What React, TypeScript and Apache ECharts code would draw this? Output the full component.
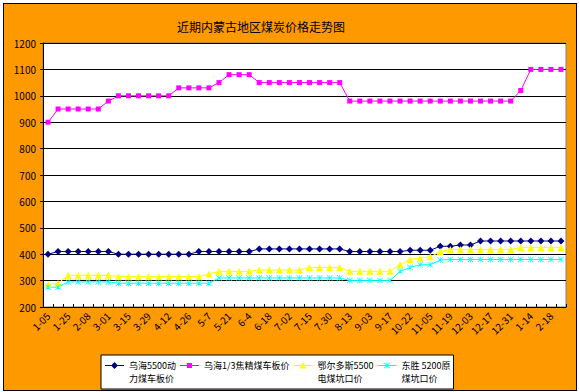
import React, { useEffect, useRef } from "react";
import * as echarts from "echarts";

const FONT = '"Noto Sans CJK SC", "DejaVu Sans", sans-serif';

const titleText = "近期内蒙古地区煤炭价格走势图";

const categories = [
  "1-05", "1-15", "1-25", "2-01", "2-08", "2-22", "3-01", "3-08", "3-15", "3-22",
  "3-29", "4-05", "4-12", "4-19", "4-26", "4-30", "5-7", "5-14", "5-21", "5-28",
  "6-4", "6-11", "6-18", "6-25", "7-02", "7-09", "7-15", "7-23", "7-30", "8-06",
  "8-13", "8-20", "9-03", "9-10", "9-17", "10-08", "10-22", "10-29", "11-05", "11-12",
  "11-19", "11-26", "12-03", "12-10", "12-17", "12-24", "12-31", "1-07", "1-14", "1-28",
  "2-18", "2-25",
];

const seriesNames = [
  "乌海5500动力煤车板价",
  "乌海1/3焦精煤车板价",
  "鄂尔多斯5500电煤坑口价",
  "东胜 5200原煤坑口价",
];
const legendLabels = [
  "乌海5500动\n力煤车板价",
  "乌海1/3焦精煤车板价\n",
  "鄂尔多斯5500\n电煤坑口价",
  "东胜 5200原\n煤坑口价",
];

const wuhaiPower = [
  400, 410, 410, 410, 410, 410, 410, 400, 400, 400,
  400, 400, 400, 400, 400, 410, 410, 410, 410, 410,
  410, 420, 420, 420, 420, 420, 420, 420, 420, 420,
  410, 410, 410, 410, 410, 410, 415, 415, 415, 430,
  430, 435, 435, 450, 450, 450, 450, 450, 450, 450,
  450, 450,
];
const wuhaiCoking = [
  900, 950, 950, 950, 950, 950, 980, 1000, 1000, 1000,
  1000, 1000, 1000, 1030, 1030, 1030, 1030, 1050, 1080, 1080,
  1080, 1050, 1050, 1050, 1050, 1050, 1050, 1050, 1050, 1050,
  980, 980, 980, 980, 980, 980, 980, 980, 980, 980,
  980, 980, 980, 980, 980, 980, 980, 1020, 1100, 1100,
  1100, 1100,
];
const ordosPower = [
  285, 290, 320, 320, 320, 320, 320, 315, 315, 315,
  315, 315, 315, 315, 315, 315, 325, 335, 335, 335,
  335, 340, 340, 340, 340, 340, 350, 350, 350, 350,
  335, 335, 335, 335, 335, 360, 380, 385, 390, 410,
  418, 418, 418, 418, 418, 418, 418, 425, 425, 425,
  425, 425,
];
const dongshengRaw = [
  275, 275, 295, 295, 295, 295, 295, 290, 290, 290,
  290, 290, 290, 290, 290, 290, 290, 310, 310, 310,
  310, 310, 310, 310, 310, 310, 310, 310, 310, 310,
  300, 300, 300, 300, 300, 335, 350, 360, 360, 378,
  380, 380, 380, 380, 380, 380, 380, 380, 380, 380,
  380, 380,
];

const yMin = 200;
const yMax = 1200;
const yInterval = 100;

const ASTERISK =
  "path://M0,0.8L0.8,0L5,4.2L9.2,0L10,0.8L5.8,5L10,9.2L9.2,10L5,5.8L0.8,10L0,9.2L4.2,5Z M4.5,0L5.5,0L5.5,10L4.5,10Z";

// legend icons: 19 x 26 box, line + marker on the first text line
const ICON_BOX = "M0,0L0.01,0L0,0.01Z M19,26L18.99,26L19,25.99Z ";
const ICON_LINE = "M0,6L19,6L19,7L0,7Z ";
const legendIcons = [
  "path://" + ICON_BOX + ICON_LINE + "M9.5,3L13,6.5L9.5,10L6,6.5Z",
  "path://" + ICON_BOX + ICON_LINE + "M7,4L12,4L12,9L7,9Z",
  "path://" + ICON_BOX + ICON_LINE + "M9.5,3L13,9.5L6,9.5Z",
  "path://" + ICON_BOX + ICON_LINE +
    "M6.5,4L7.1,3.4L9.5,5.8L11.9,3.4L12.5,4L10.1,6.4L12.5,8.8L11.9,9.4L9.5,7L7.1,9.4L6.5,8.8L8.9,6.4Z M9.1,3.5L9.9,3.5L9.9,9.5L9.1,9.5Z",
];

export default function App() {
  const ref = useRef<HTMLDivElement>(null);

  useEffect(() => {
    document.body.style.margin = "0";
    if (!ref.current) return;
    const chart = echarts.init(ref.current, undefined, { renderer: "svg" });
    const mk = (
      name: string,
      data: number[],
      color: string,
      symbol: string,
      symbolSize: number
    ) => ({
      name,
      type: "line",
      data,
      symbol,
      symbolSize,
      showAllSymbol: true,
      lineStyle: { color, width: 1 },
      itemStyle: { color, borderWidth: 0 },
      emphasis: { disabled: true },
    });
    chart.setOption({
      animation: false,
      textStyle: { fontFamily: FONT },
      title: {
        text: titleText,
        left: 172,
        top: 15,
        textStyle: { fontSize: 12, fontWeight: "normal", color: "#000", fontFamily: FONT },
      },
      legend: {
        data: seriesNames.map((n, i) => ({ name: n, icon: legendIcons[i] })),
        left: 101,
        top: 355,
        backgroundColor: "#fff",
        borderColor: "#000",
        borderWidth: 1,
        borderRadius: 0,
        padding: [4, 3, 4, 4],
        itemGap: 4,
        itemWidth: 19,
        itemHeight: 26,
        symbolKeepAspect: false,
        formatter: (name: string) => legendLabels[seriesNames.indexOf(name)],
        textStyle: { fontSize: 9, lineHeight: 13, color: "#000", fontFamily: FONT },
      },
      grid: {
        left: 43,
        right: 13,
        top: 43,
        bottom: 85,
        show: true,
        backgroundColor: "#fff",
        borderColor: "#808080",
        borderWidth: 1,
      },
      xAxis: {
        type: "category",
        data: categories,
        boundaryGap: true,
        axisLine: { lineStyle: { color: "#000", width: 1 } },
        axisTick: { show: true, inside: true, length: 3, interval: 0, lineStyle: { color: "#000" } },
        axisLabel: { interval: 1, rotate: 45, fontSize: 10, color: "#000", margin: 7, fontFamily: FONT },
        splitLine: { show: false },
      },
      yAxis: {
        type: "value",
        min: yMin,
        max: yMax,
        interval: yInterval,
        axisLine: { show: true, lineStyle: { color: "#000", width: 1 } },
        axisTick: { show: true, length: 3, lineStyle: { color: "#000" } },
        axisLabel: {
          fontSize: 10,
          color: "#000",
          margin: 7,
          fontFamily: FONT,
          formatter: (v: number) => String(v),
        },
        splitLine: { lineStyle: { color: "#000", width: 1 } },
      },
      series: [
        mk(seriesNames[0], wuhaiPower, "#000080", "diamond", 7),
        mk(seriesNames[1], wuhaiCoking, "#FF00FF", "rect", 5),
        mk(seriesNames[2], ordosPower, "#FFFF00", "triangle", 7),
        mk(seriesNames[3], dongshengRaw, "#00FFFF", ASTERISK, 6),
      ],
    });
    return () => chart.dispose();
  }, []);

  return (
    <div style={{ position: "relative", width: 579, height: 392, background: "#fff" }}>
      <div
        style={{
          position: "absolute",
          left: 3,
          top: 3,
          width: 574,
          height: 388,
          boxSizing: "border-box",
          border: "1px solid #000",
          background: "#FF9900",
        }}
      />
      <div ref={ref} style={{ position: "absolute", left: 0, top: 0, width: 579, height: 392 }} />
    </div>
  );
}
